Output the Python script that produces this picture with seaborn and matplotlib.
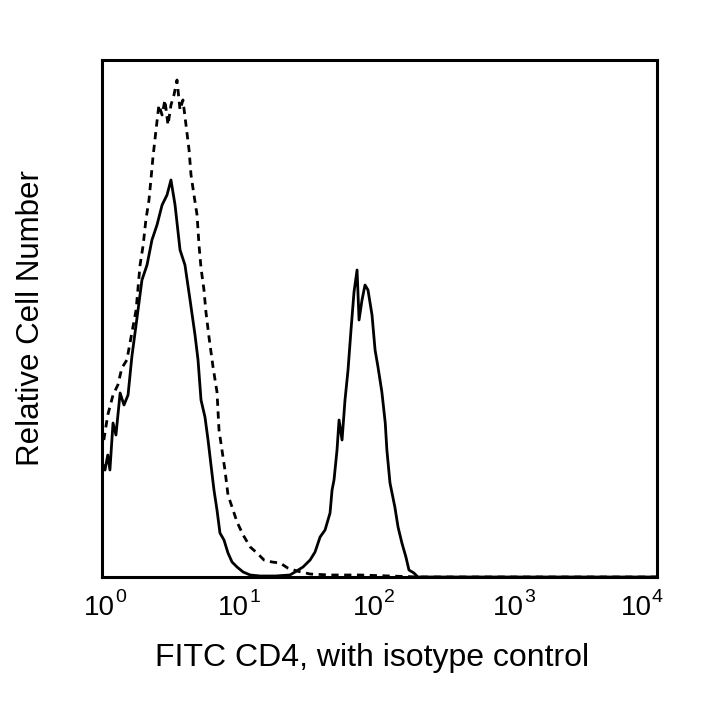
import numpy as np
import pandas as pd
import matplotlib
matplotlib.use("Agg")
import matplotlib.pyplot as plt
import matplotlib.transforms as mtrans
import seaborn as sns

# FITC CD4 stained cells (solid)
cd4_fluor = [1.02, 1.05, 1.10, 1.14, 1.20, 1.26, 1.35, 1.44, 1.54, 1.64, 1.79, 1.94, 2.11, 2.29,
             2.49, 2.71, 2.94, 3.14, 3.36, 3.65, 3.96, 4.31, 4.68, 4.92, 5.17, 5.52, 5.81, 6.10,
             6.41, 6.74, 7.08, 7.57, 8.09, 8.65, 9.40, 10.4, 11.7, 13.8, 17.7, 22.6, 24.6, 28.1,
             31.6, 34.3, 37.3, 40.5, 44.0, 45.5, 47.0, 49.4, 51.1, 53.7, 56.4, 59.3, 62.3, 65.5,
             68.9, 71.2, 74.8, 78.6, 82.6, 88.3, 92.9, 97.5, 104, 110, 113, 119, 129, 136, 145,
             155, 163, 177, 189, 1000, 10000]
cd4_count = [112, 107, 122, 107, 154, 142, 184, 172, 182, 220, 260, 297, 312, 337,
             352, 372, 382, 397, 372, 327, 312, 277, 242, 217, 177, 160, 137, 112,
             87, 67, 44, 37, 24, 15, 10, 5, 2, 1, 1, 2, 5, 10,
             17, 25, 40, 47, 64, 87, 97, 127, 157, 137, 177, 207, 247, 285,
             307, 257, 277, 292, 287, 262, 227, 210, 185, 154, 127, 94, 70, 50, 34,
             20, 7, 4, 0, 0, 0]

# Isotype control (dashed)
iso_fluor = [1.03, 1.10, 1.20, 1.30, 1.39, 1.51, 1.64, 1.76, 1.88, 1.98, 2.07, 2.18, 2.25, 2.33,
             2.45, 2.57, 2.71, 2.84, 2.99, 3.14, 3.30, 3.47, 3.65, 3.83, 4.03, 4.24, 4.38, 4.60,
             4.84, 5.00, 5.17, 5.43, 5.61, 5.90, 6.31, 6.74, 6.97, 7.32, 7.69, 8.09, 8.65, 9.40,
             10.4, 11.7, 13.1, 14.7, 16.8, 19.2, 21.8, 25.4, 31.6, 44.0, 72.3, 119, 195, 10000]
iso_count = [137, 162, 182, 192, 209, 217, 244, 267, 312, 332, 357, 377, 397, 420,
             447, 472, 462, 477, 452, 472, 482, 497, 467, 477, 452, 427, 402, 382,
             362, 332, 309, 287, 265, 240, 210, 185, 147, 127, 107, 82, 70, 55,
             42, 30, 24, 17, 15, 14, 9, 6, 3, 2, 2, 1, 0, 0]

xticks = [1, 10, 100, 1000, 10000]
xtick_base = ["10", "10", "10", "10", "10"]
xtick_exp = ["0", "1", "2", "3", "4"]
x_title = "FITC CD4, with isotype control"
y_title = "Relative Cell Number"

# horizontal nudges (pixels) of each tick label, as placed in the original figure
label_dx = [-2.5, -7, -11.5, -10, -21]

sns.set_style("white")
plt.rcParams["font.family"] = ["Liberation Sans", "DejaVu Sans"]
plt.rcParams["text.color"] = "black"
plt.rcParams["axes.labelcolor"] = "black"
plt.rcParams["xtick.color"] = "black"

fig = plt.figure(figsize=(7.2, 7.2), dpi=100)
ax = fig.add_axes([0.1417, 0.1986, 0.9125 - 0.1417, 0.9167 - 0.1986])

df_cd4 = pd.DataFrame({"fluor": cd4_fluor, "count": cd4_count})
df_iso = pd.DataFrame({"fluor": iso_fluor, "count": iso_count})

sns.lineplot(data=df_iso, x="fluor", y="count", ax=ax, color="black", lw=2.0,
             linestyle=(0, (2.6, 2.0)), sort=True)
sns.lineplot(data=df_cd4, x="fluor", y="count", ax=ax, color="black", lw=2.0, sort=True)

ax.set_xscale("log")
ax.set_xlim(1, 10000)
ax.set_ylim(0, 517)
ax.set_xticks(xticks)
ax.set_xticklabels(xtick_base)
ax.minorticks_off()
ax.set_yticks([])
ax.tick_params(axis="x", length=0, pad=13, labelsize=20, colors="black")

for lab, dx in zip(ax.get_xticklabels(), label_dx):
    lab.set_transform(lab.get_transform() +
                      mtrans.ScaledTranslation(dx / 100.0, 0, fig.dpi_scale_trans))

for t, e, dx in zip(xticks, xtick_exp, label_dx):
    ax.annotate(e, xy=(t, 0), xycoords=("data", "axes fraction"),
                xytext=(dx + 16, -12), textcoords="offset pixels",
                ha="left", va="top", fontsize=14, color="black",
                annotation_clip=False)

ax.set_xlabel(x_title, fontsize=23, color="black")
ax.xaxis.set_label_coords(0.4865, -0.128)
ax.set_ylabel(y_title, fontsize=22.5, labelpad=40, color="black")
for s in ax.spines.values():
    s.set_visible(True)
    s.set_linewidth(2.2)
    s.set_color("black")

fig.savefig("out.png", dpi=100)
